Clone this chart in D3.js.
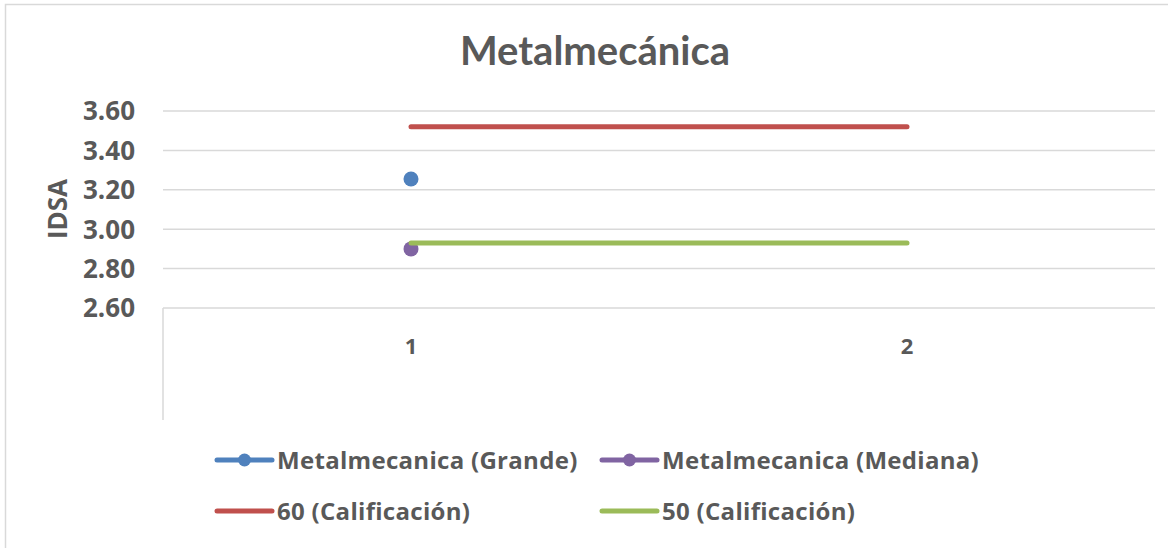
<!DOCTYPE html>
<html>
<head>
<meta charset="utf-8">
<script src="https://cdn.jsdelivr.net/npm/d3@7"></script>
<style>
	body { margin: 0; background: #fff; }
	text { font-family: "Open Sans", Lato, sans-serif; font-weight: bold; fill: #595959; }
	.title { font-family: Lato, "Open Sans", sans-serif; }
</style>
</head>
<body>
<svg id="chart" width="1168" height="548"></svg>
<script>
var categories = ["1", "2"];
var yTicks = [2.6, 2.8, 3.0, 3.2, 3.4, 3.6];
var grande = [3.255, null];
var mediana = [2.90, null];
var cal60 = [3.52, 3.52];
var cal50 = [2.93, 2.93];

var series = [
	{ name: "Metalmecanica (Grande)", values: grande, color: "#4F81BD", marker: true },
	{ name: "Metalmecanica (Mediana)", values: mediana, color: "#8064A2", marker: true },
	{ name: "60 (Calificación)", values: cal60, color: "#C0504D", marker: false },
	{ name: "50 (Calificación)", values: cal50, color: "#9BBB59", marker: false }
];

var svg = d3.select("#chart");

// chart border
svg.append("rect")
	.attr("x", 5.5).attr("y", 4.5)
	.attr("width", 1200).attr("height", 600)
	.attr("fill", "none")
	.attr("stroke", "#D9D9D9")
	.attr("stroke-width", 1.5);

var xScale = d3.scaleBand().domain(categories).range([163, 1155]);
var yScale = d3.scaleLinear().domain([2.6, 3.6]).range([308, 111]);

// gridlines
svg.append("g")
	.selectAll("line")
	.data(yTicks)
	.enter()
	.append("line")
	.attr("x1", 163).attr("x2", 1155)
	.attr("y1", function(d) { return yScale(d); })
	.attr("y2", function(d) { return yScale(d); })
	.attr("stroke", "#D9D9D9")
	.attr("stroke-width", 1.5);

// vertical axis stub below the plot
svg.append("line")
	.attr("x1", 163).attr("x2", 163)
	.attr("y1", yScale(2.6)).attr("y2", 420)
	.attr("stroke", "#D9D9D9")
	.attr("stroke-width", 1.5);

// y tick labels
svg.append("g")
	.selectAll("text")
	.data(yTicks)
	.enter()
	.append("text")
	.attr("x", 135)
	.attr("y", function(d) { return yScale(d); })
	.attr("dy", "0.36em")
	.attr("text-anchor", "end")
	.style("font-size", "26px")
	.text(function(d) { return d3.format(".2f")(d); });

// x tick labels
svg.append("g")
	.selectAll("text")
	.data(categories)
	.enter()
	.append("text")
	.attr("x", function(d) { return xScale(d) + xScale.bandwidth() / 2; })
	.attr("y", 354)
	.attr("text-anchor", "middle")
	.style("font-size", "22px")
	.text(function(d) { return d; });

// y label
svg.append("text")
	.attr("transform", "translate(67,209) rotate(-90)")
	.attr("text-anchor", "middle")
	.style("font-size", "26px")
	.text("IDSA");

// title
svg.append("text")
	.attr("class", "title")
	.attr("x", 595)
	.attr("y", 65)
	.attr("text-anchor", "middle")
	.style("font-size", "40px")
	.text("Metalmecánica");

var line = d3.line()
	.defined(function(d) { return d != null; })
	.x(function(d, i) { return xScale(categories[i]) + xScale.bandwidth() / 2; })
	.y(function(d) { return yScale(d); });

series.forEach(function(s) {
	svg.append("path")
		.datum(s.values)
		.attr("d", line)
		.attr("fill", "none")
		.attr("stroke", s.color)
		.attr("stroke-width", 5)
		.attr("stroke-linecap", "round");
	if (s.marker) {
		svg.append("g")
			.selectAll("circle")
			.data(s.values.filter(function(d) { return d != null; }))
			.enter()
			.append("circle")
			.attr("cx", function(d, i) { return xScale(categories[i]) + xScale.bandwidth() / 2; })
			.attr("cy", function(d) { return yScale(d); })
			.attr("r", 7.5)
			.attr("fill", s.color);
	}
});

// legend
var legendPos = [[217, 460], [602, 460], [217, 511], [602, 511]];
var legend = svg.append("g").attr("class", "legend");
series.forEach(function(s, i) {
	var g = legend.append("g")
		.attr("transform", "translate(" + legendPos[i][0] + "," + legendPos[i][1] + ")");
	g.append("line")
		.attr("x1", 0).attr("x2", 55)
		.attr("y1", 0).attr("y2", 0)
		.attr("stroke", s.color)
		.attr("stroke-width", 5)
		.attr("stroke-linecap", "round");
	if (s.marker) {
		g.append("circle")
			.attr("cx", 27.5).attr("cy", 0)
			.attr("r", 6.5)
			.attr("fill", s.color);
	}
	g.append("text")
		.attr("x", 60)
		.attr("y", 0)
		.attr("dy", "0.36em")
		.style("font-size", "24px")
		.style("letter-spacing", "0.3px")
		.text(s.name);
});
</script>
</body>
</html>
